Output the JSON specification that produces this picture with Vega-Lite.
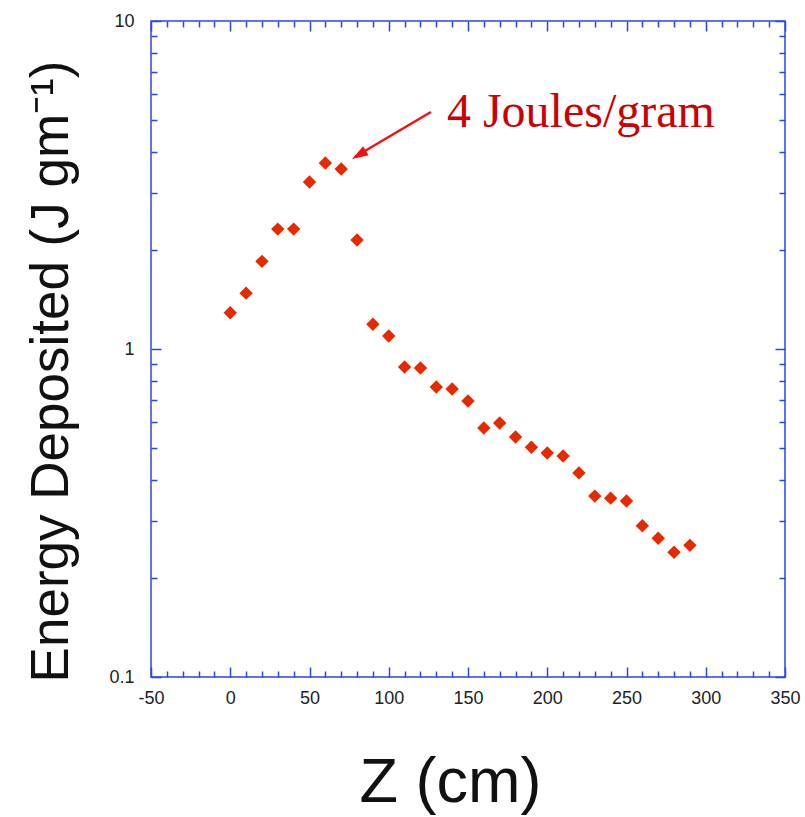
{
  "$schema": "https://vega.github.io/schema/vega-lite/v6.json",
  "width": 634,
  "height": 656,
  "autosize": {"type": "none"},
  "padding": {"left": 151, "top": 21, "right": 20, "bottom": 140},
  "background": "white",
  "config": {
    "view": {"stroke": "#2a44f0", "strokeWidth": 1.5},
    "axis": {
      "grid": false, "domain": false,
      "labelFont": "Liberation Sans", "labelFontSize": 18, "labelColor": "#222222",
      "tickColor": "#2a44f0", "tickWidth": 1.5,
      "labelFlush": false, "labelOverlap": false
    }
  },
  "datasets": {
    "pts": [
      {"z": 0, "e": 1.29}, {"z": 10, "e": 1.48}, {"z": 20, "e": 1.85}, {"z": 30, "e": 2.32},
      {"z": 40, "e": 2.32}, {"z": 50, "e": 3.23}, {"z": 60, "e": 3.69}, {"z": 70, "e": 3.54},
      {"z": 80, "e": 2.15}, {"z": 90, "e": 1.19}, {"z": 100, "e": 1.096}, {"z": 110, "e": 0.881},
      {"z": 120, "e": 0.875}, {"z": 130, "e": 0.766}, {"z": 140, "e": 0.755}, {"z": 150, "e": 0.694},
      {"z": 160, "e": 0.574}, {"z": 170, "e": 0.595}, {"z": 180, "e": 0.539}, {"z": 190, "e": 0.502},
      {"z": 200, "e": 0.482}, {"z": 210, "e": 0.472}, {"z": 220, "e": 0.419}, {"z": 230, "e": 0.356},
      {"z": 240, "e": 0.351}, {"z": 250, "e": 0.344}, {"z": 260, "e": 0.289}, {"z": 270, "e": 0.265},
      {"z": 280, "e": 0.240}, {"z": 290, "e": 0.252}
    ],
    "arrow": [{"z": 126.6, "e": 5.28}, {"z": 78.5, "e": 3.85}],
    "head": [{"z": 81.2, "e": 3.908}],
    "label": [{"z": 136.7, "e": 4.75, "t": "4 Joules/gram"}]
  },
  "resolve": {"axis": {"x": "independent", "y": "independent"}},
  "layer": [
    {
      "data": {"name": "pts"},
      "mark": {"type": "point", "opacity": 0},
      "encoding": {
        "x": {"field": "z", "type": "quantitative", "scale": {"domain": [-50, 350], "nice": false, "zero": false},
              "axis": {"orient": "bottom", "values": [-50, 0, 50, 100, 150, 200, 250, 300, 350], "tickSize": -10, "labels": false, "title": null}},
        "y": {"field": "e", "type": "quantitative", "scale": {"type": "log", "domain": [0.1, 10], "nice": false},
              "axis": {"orient": "left", "values": [0.1, 1, 10], "tickSize": -10, "labels": false, "title": null}}
      }
    },
    {
      "data": {"name": "pts"},
      "mark": {"type": "point", "opacity": 0},
      "encoding": {
        "x": {"field": "z", "type": "quantitative",
              "axis": {"orient": "bottom", "values": [-40, -30, -20, -10, 10, 20, 30, 40, 60, 70, 80, 90, 110, 120, 130, 140, 160, 170, 180, 190, 210, 220, 230, 240, 260, 270, 280, 290, 310, 320, 330, 340], "tickSize": -6, "labels": false, "title": null}},
        "y": {"field": "e", "type": "quantitative",
              "axis": {"orient": "left", "values": [0.2, 0.3, 0.4, 0.5, 0.6, 0.7, 0.8, 0.9, 2, 3, 4, 5, 6, 7, 8, 9], "tickSize": -6, "labels": false, "title": null}}
      }
    },
    {
      "data": {"name": "pts"},
      "mark": {"type": "point", "opacity": 0},
      "encoding": {
        "x": {"field": "z", "type": "quantitative",
              "axis": {"orient": "top", "values": [-50, 0, 50, 100, 150, 200, 250, 300, 350], "tickSize": -10, "labels": false, "title": null}},
        "y": {"field": "e", "type": "quantitative",
              "axis": {"orient": "right", "values": [0.1, 1, 10], "tickSize": -10, "labels": false, "title": null}}
      }
    },
    {
      "data": {"name": "pts"},
      "mark": {"type": "point", "opacity": 0},
      "encoding": {
        "x": {"field": "z", "type": "quantitative",
              "axis": {"orient": "top", "values": [-40, -30, -20, -10, 10, 20, 30, 40, 60, 70, 80, 90, 110, 120, 130, 140, 160, 170, 180, 190, 210, 220, 230, 240, 260, 270, 280, 290, 310, 320, 330, 340], "tickSize": -6, "labels": false, "title": null}},
        "y": {"field": "e", "type": "quantitative",
              "axis": {"orient": "right", "values": [0.2, 0.3, 0.4, 0.5, 0.6, 0.7, 0.8, 0.9, 2, 3, 4, 5, 6, 7, 8, 9], "tickSize": -6, "labels": false, "title": null}}
      }
    },
    {
      "data": {"name": "pts"},
      "mark": {"type": "point", "shape": "diamond", "filled": true, "size": 180, "color": "#e62a00", "opacity": 1, "strokeWidth": 0},
      "encoding": {
        "x": {"field": "z", "type": "quantitative",
              "axis": {"orient": "bottom", "values": [-50, 0, 50, 100, 150, 200, 250, 300, 350], "ticks": false, "labelPadding": 12,
                       "labelExpr": "'' + datum.value",
                       "title": "Z (cm)", "titleFont": "Liberation Sans", "titleFontSize": 63, "titleFontWeight": "normal", "titleColor": "#111111",
                       "titleX": 299, "titleY": 124, "titleAlign": "center", "titleBaseline": "alphabetic", "titleAnchor": null}},
        "y": {"field": "e", "type": "quantitative",
              "axis": {"orient": "left", "values": [0.1, 1, 10], "ticks": false, "labelPadding": 17,
                       "labelExpr": "'' + datum.value",
                       "title": "Energy Deposited (J gm⁻¹)", "titleFont": "Liberation Sans", "titleFontSize": 53, "titleFontWeight": "normal", "titleColor": "#111111",
                       "titleX": -84, "titleY": 350, "titleAngle": -90, "titleAlign": "center", "titleBaseline": "alphabetic"}}
      }
    },
    {
      "data": {"name": "arrow"},
      "mark": {"type": "line", "color": "#f51010", "strokeWidth": 2.5},
      "encoding": {
        "x": {"field": "z", "type": "quantitative", "axis": null},
        "y": {"field": "e", "type": "quantitative", "axis": null}
      }
    },
    {
      "data": {"name": "head"},
      "mark": {"type": "point", "shape": "M0,-1L0.65,1L-0.65,1Z", "filled": true, "size": 256, "color": "#f51010", "opacity": 1, "strokeWidth": 0, "angle": 239},
      "encoding": {
        "x": {"field": "z", "type": "quantitative", "axis": null},
        "y": {"field": "e", "type": "quantitative", "axis": null}
      }
    },
    {
      "data": {"name": "label"},
      "mark": {"type": "text", "font": "Liberation Serif", "fontSize": 48, "color": "#cc0000", "align": "left", "baseline": "alphabetic"},
      "encoding": {
        "x": {"field": "z", "type": "quantitative", "axis": null},
        "y": {"field": "e", "type": "quantitative", "axis": null},
        "text": {"field": "t"}
      }
    }
  ]
}
